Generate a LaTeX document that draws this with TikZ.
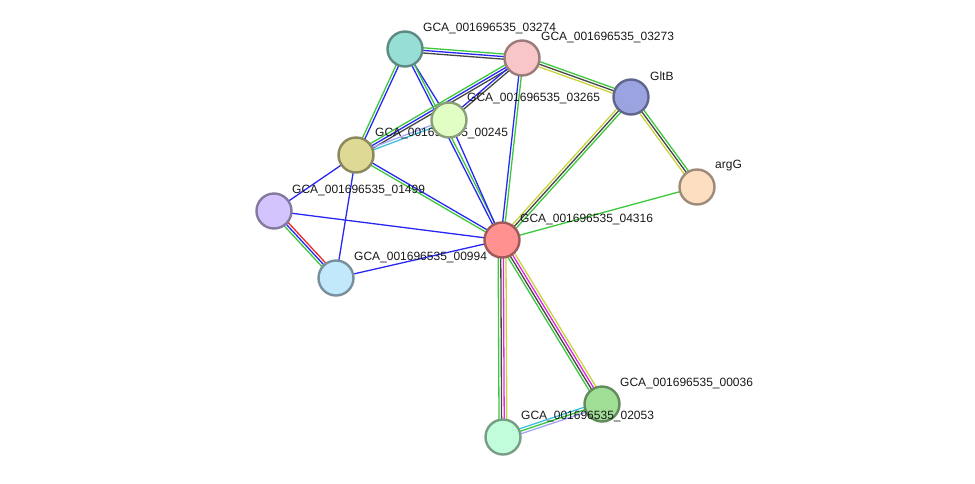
\documentclass[tikz,border=0pt]{standalone}
\usepackage{fontspec}
\setmainfont{Liberation Sans}
\usepackage{tikz}
\usetikzlibrary{positioning,calc}

% link colours
\definecolor{lnGreen}{RGB}{60,200,60}
\definecolor{lnBlue}{RGB}{40,40,245}
\definecolor{lnGrey}{RGB}{70,70,70}
\definecolor{lnYellow}{RGB}{200,212,60}
\definecolor{lnMagenta}{RGB}{225,40,225}
\definecolor{lnCyan}{RGB}{60,190,225}
\definecolor{lnLav}{RGB}{165,165,250}
\definecolor{lnRed}{RGB}{235,40,40}
% protein colours
\definecolor{cA}{RGB}{151,222,213}
\definecolor{cB}{RGB}{248,198,198}
\definecolor{cC}{RGB}{155,164,224}
\definecolor{cD}{RGB}{225,255,196}
\definecolor{cE}{RGB}{222,218,150}
\definecolor{cF}{RGB}{253,222,193}
\definecolor{cG}{RGB}{212,196,254}
\definecolor{cH}{RGB}{255,145,145}
\definecolor{cI}{RGB}{194,232,252}
\definecolor{cJ}{RGB}{160,222,150}
\definecolor{cK}{RGB}{193,253,218}

\pgfdeclarelayer{links}
\pgfsetlayers{links,main}

\tikzset{
  prot/.style={circle,minimum size=35pt,inner sep=0pt,line width=2.4pt,fill=#1,draw=#1!62!black},
  lbl/.style={anchor=west,inner sep=0pt,text=black!90,font=\fontsize{12}{14}\selectfont},
  ln/.style={line width=1.3pt}
}

% parallel coloured lines between two nodes
\newcommand{\linkset}[3]{%
  \def\nlines{0}%
  \foreach \c in {#3}{\xdef\nlines{\the\numexpr\nlines+1\relax}}%
  \foreach \c [count=\i] in {#3}{%
    \pgfmathsetmacro{\off}{(\i-(\nlines+1)/2)*2.6}%
    \draw[ln,\c] ($(#1)!\off pt!90:(#2)$) -- ($(#2)!\off pt!-90:(#1)$);
  }%
}

\begin{document}
\begin{tikzpicture}[x=1pt,y=-1pt]
    \useasboundingbox (0,0) rectangle (975,483);

    % Proteins and their names
    \node[prot=cA] (n03274) at (405,49) {};
    \node[lbl] (l03274) at ($(n03274)+(18,-21)$) {GCA\_001696535\_03274};
    \node[prot=cB] (n03273) at (522,58) {};
    \node[lbl] (l03273) at ($(n03273)+(19,-21)$) {GCA\_001696535\_03273};
    \node[prot=cC] (nGltB) at (631,97) {};
    \node[lbl] (lGltB) at ($(nGltB)+(19,-21)$) {GltB};
    \node[prot=cE] (n00245) at (356,155) {};
    \node[lbl] (l00245) at ($(n00245)+(19,-22)$) {GCA\_001696535\_00245};
    \node[prot=cD] (n03265) at (449,120) {};
    \node[lbl] (l03265) at ($(n03265)+(18,-22)$) {GCA\_001696535\_03265};
    \node[prot=cF] (nargG) at (697,187) {};
    \node[lbl] (largG) at ($(nargG)+(18,-21)$) {argG};
    \node[prot=cG] (n01499) at (274,211) {};
    \node[lbl] (l01499) at ($(n01499)+(18,-21)$) {GCA\_001696535\_01499};
    \node[prot=cH] (n04316) at (502,240) {};
    \node[lbl] (l04316) at ($(n04316)+(18,-21)$) {GCA\_001696535\_04316};
    \node[prot=cI] (n00994) at (336,278) {};
    \node[lbl] (l00994) at ($(n00994)+(18,-21)$) {GCA\_001696535\_00994};
    \node[prot=cJ] (n00036) at (602,404) {};
    \node[lbl] (l00036) at ($(n00036)+(18,-21)$) {GCA\_001696535\_00036};
    \node[prot=cK] (n02053) at (503,437) {};
    \node[lbl] (l02053) at ($(n02053)+(18,-21)$) {GCA\_001696535\_02053};

    % Links
    \begin{pgfonlayer}{links}
    \linkset{n03274}{n03273}{lnGrey,lnBlue,lnGreen}
    \linkset{n03274}{n00245}{lnGreen,lnBlue}
    \linkset{n03274}{n03265}{lnBlue}
    \linkset{n03274}{n04316}{lnBlue,lnGreen}
    \linkset{n03273}{n00245}{lnGreen,lnBlue,lnGrey}
    \linkset{n03273}{n03265}{lnBlue,lnGrey}
    \linkset{n03273}{n04316}{lnBlue,lnGreen}
    \linkset{n03273}{nGltB}{lnYellow,lnGrey,lnGreen}
    \linkset{n03265}{n00245}{lnLav,lnCyan}
    \linkset{n03265}{n04316}{lnBlue}
    \linkset{nGltB}{n04316}{lnYellow,lnGrey,lnGreen}
    \linkset{nGltB}{nargG}{lnYellow,lnGrey,lnGreen}
    \linkset{nargG}{n04316}{lnGreen}
    \linkset{n00245}{n01499}{lnBlue}
    \linkset{n00245}{n00994}{lnBlue}
    \linkset{n00245}{n04316}{lnGreen,lnBlue}
    \linkset{n01499}{n04316}{lnBlue}
    \linkset{n01499}{n00994}{lnGreen,lnBlue,lnRed}
    \linkset{n00994}{n04316}{lnBlue}
    \linkset{n04316}{n02053}{lnGreen,lnGrey,lnMagenta,lnYellow}
    \linkset{n04316}{n00036}{lnGreen,lnGrey,lnMagenta,lnYellow}
    \linkset{n00036}{n02053}{lnCyan,lnGreen,lnLav}
    \end{pgfonlayer}
\end{tikzpicture}
\end{document}
